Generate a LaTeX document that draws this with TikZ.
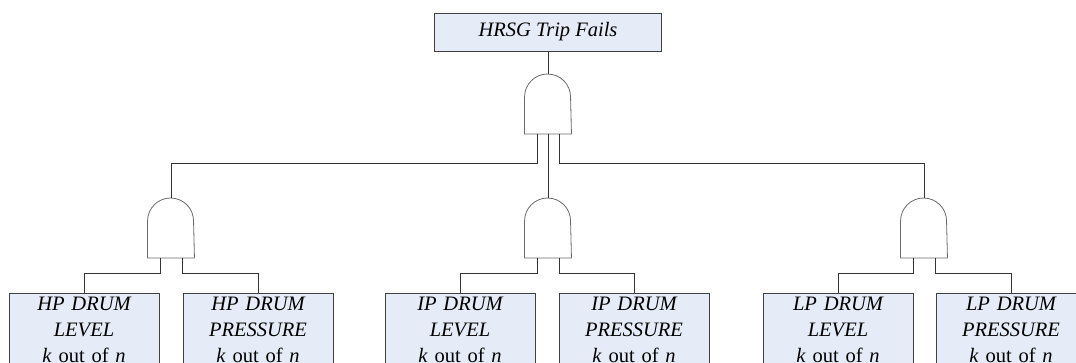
\documentclass[tikz,border=0pt]{standalone}
\usepackage{fontspec}
\setmainfont{Liberation Serif}
\usetikzlibrary{positioning}

\definecolor{eventfill}{RGB}{229,236,247}
\definecolor{gategray}{RGB}{105,105,105}
\newcommand{\kofn}{\textup{\textit{k} out of \textit{n}}}

\begin{document}
\begin{tikzpicture}[x=1pt,y=1pt,line width=0.9pt,draw=black!80,
  top node/.style={rectangle,draw=black!75,fill=eventfill,minimum width=227pt,minimum height=38pt,
    font=\itshape\fontsize{20.5}{26}\selectfont},
  basic node/.style={rectangle,draw=black!75,fill=eventfill,minimum width=150pt,text width=140pt,
    align=center,inner xsep=5pt,inner ysep=4pt,anchor=north,font=\itshape\fontsize{20.5}{26}\selectfont},
  gate node/.style={rectangle,minimum width=46pt,minimum height=59pt,inner sep=0pt,anchor=north},
  gate line/.style={draw=gategray,line width=0.8pt}]
  \useasboundingbox (0,0) rectangle (1076,-362);

  % top event and AND gates
  \node[top node] (trip) at (548,-32) {HRSG Trip Fails};
  \node[gate node] (g0) at (548,-74) {};
  \node[gate node] (g1) at (171,-198) {};
  \node[gate node] (g2) at (548,-198) {};
  \node[gate node] (g3) at (924,-198) {};

  % basic events
  \node[basic node] (hpl) at (84,-293) {HP DRUM\\LEVEL\\\kofn};
  \node[basic node] (hpp) at (258,-293) {HP DRUM\\PRESSURE\\\kofn};
  \node[basic node] (ipl) at (460,-293) {IP DRUM\\LEVEL\\\kofn};
  \node[basic node] (ipp) at (634,-293) {IP DRUM\\PRESSURE\\\kofn};
  \node[basic node] (lpl) at (838,-293) {LP DRUM\\LEVEL\\\kofn};
  \node[basic node] (lpp) at (1011,-293) {LP DRUM\\PRESSURE\\\kofn};

  \foreach \g in {g0,g1,g2,g3}
    \draw[gate line] (\g.south west) -- ([yshift=-23pt]\g.north west)
      arc[start angle=180,end angle=0,radius=23pt] -- (\g.south east) -- cycle;

  \draw (trip.south) -- (g0.north);
  \draw ([xshift=-11pt]g0.south) -- ++(0,-30) -| (g1.north);
  \draw ([xshift=11pt]g0.south) -- ++(0,-30) -| (g3.north);
  \draw (g0.south) -- (g2.north);
  \foreach \g/\l/\r in {g1/hpl/hpp,g2/ipl/ipp,g3/lpl/lpp} {
    \draw ([xshift=-11pt]\g.south) -- ++(0,-16) -| (\l.north);
    \draw ([xshift=11pt]\g.south) -- ++(0,-16) -| (\r.north);
  }
\end{tikzpicture}
\end{document}
